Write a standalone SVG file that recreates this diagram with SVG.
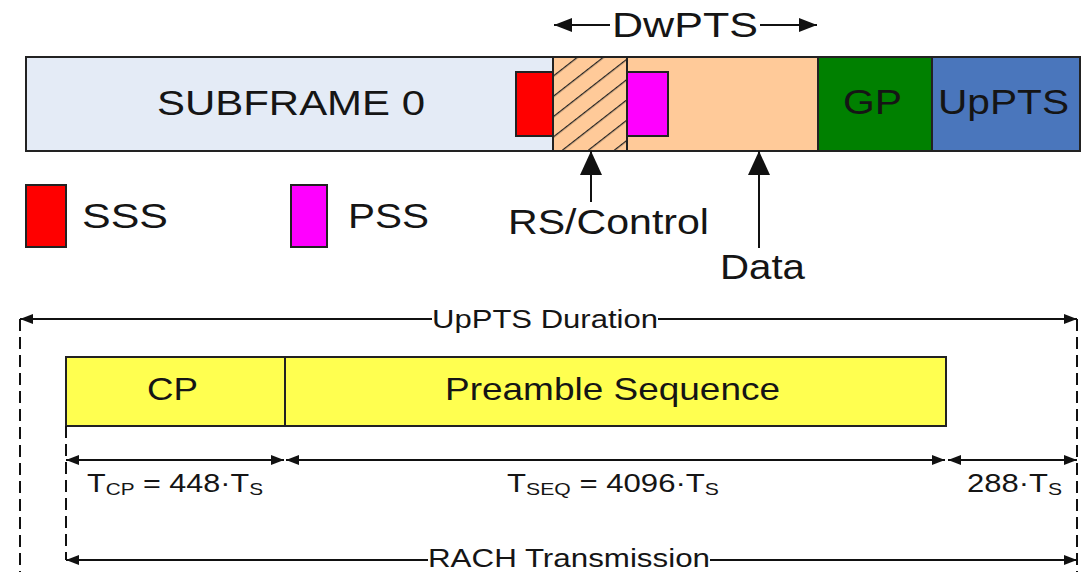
<svg xmlns="http://www.w3.org/2000/svg" width="1086" height="572" viewBox="0 0 1086 572">
  <style>
    text { font-family: "Liberation Sans", Arial, sans-serif; fill: #151515; }
    .blk { stroke: #222; stroke-width: 2; }
    .line { stroke: #111; stroke-width: 2; fill: none; }
    .dash { stroke: #111; stroke-width: 2; fill: none; stroke-dasharray: 12 6; }
    .big { font-size: 35px; }
    .mid { font-size: 32px; }
    .small { font-size: 25px; }
    .sub { font-size: 17px; }
  </style>
  <defs>
    <pattern id="hatch" patternUnits="userSpaceOnUse" width="16" height="16" patternTransform="rotate(52)">
      <rect width="16" height="16" fill="#FFCA99"/>
      <line x1="0" y1="0" x2="0" y2="16" stroke="#222" stroke-width="2.5"/>
    </pattern>
    <!-- small dimension arrowhead -->
    <marker id="ahs" markerUnits="userSpaceOnUse" markerWidth="13" markerHeight="10" refX="13" refY="5" orient="auto-start-reverse" overflow="visible">
      <path d="M0,0 L13,5 L0,10 z" fill="#111"/>
    </marker>
    <!-- span arrowhead -->
    <marker id="ahm" markerUnits="userSpaceOnUse" markerWidth="18" markerHeight="14" refX="18" refY="7" orient="auto-start-reverse" overflow="visible">
      <path d="M0,0 L18,7 L0,14 z" fill="#111"/>
    </marker>
    <!-- pointer arrowhead -->
    <marker id="ahb" markerUnits="userSpaceOnUse" markerWidth="24" markerHeight="22" refX="24" refY="11" orient="auto-start-reverse" overflow="visible">
      <path d="M0,0 L24,11 L0,22 z" fill="#111"/>
    </marker>
  </defs>

  <!-- subframe bar -->
  <g id="subframe0">
    <rect x="26" y="57" width="527" height="94" fill="#E4EBF6" class="blk"/>
    <text x="157" y="115" class="big" textLength="268" lengthAdjust="spacingAndGlyphs">SUBFRAME 0</text>
  </g>
  <g id="dwpts-data">
    <rect x="627" y="57" width="191" height="94" fill="#FFCA99" class="blk"/>
  </g>
  <g id="rs-control">
    <rect x="553" y="57" width="74" height="94" fill="url(#hatch)" class="blk"/>
  </g>
  <g id="sss-block">
    <rect x="516" y="72" width="37" height="64" fill="#FF0000" class="blk"/>
  </g>
  <g id="pss-block">
    <rect x="627" y="72" width="41" height="64" fill="#FF00FF" class="blk"/>
  </g>
  <g id="gp">
    <rect x="818" y="57" width="114" height="94" fill="#008000" class="blk"/>
    <text x="843" y="114" class="big" textLength="59" lengthAdjust="spacingAndGlyphs">GP</text>
  </g>
  <g id="uppts">
    <rect x="932" y="57" width="148" height="94" fill="#4A76BC" class="blk"/>
    <text x="938" y="114" class="big" textLength="131" lengthAdjust="spacingAndGlyphs">UpPTS</text>
  </g>

  <!-- legend -->
  <g id="legend-sss">
    <rect x="26" y="185" width="40" height="62" fill="#FF0000" class="blk"/>
    <text x="82" y="228" class="big" textLength="86" lengthAdjust="spacingAndGlyphs">SSS</text>
  </g>
  <g id="legend-pss">
    <rect x="291" y="185" width="36" height="62" fill="#FF00FF" class="blk"/>
    <text x="348" y="228" class="big" textLength="81" lengthAdjust="spacingAndGlyphs">PSS</text>
  </g>

  <!-- labels -->
  <g id="label-dwpts">
    <text x="612" y="37" class="big" textLength="146" lengthAdjust="spacingAndGlyphs">DwPTS</text>
  </g>
  <g id="label-rs">
    <text x="508" y="234" class="big" textLength="201" lengthAdjust="spacingAndGlyphs">RS/Control</text>
  </g>
  <g id="label-data">
    <text x="720" y="279" class="big" textLength="85" lengthAdjust="spacingAndGlyphs">Data</text>
  </g>

  <!-- RACH structure -->
  <g id="rach-cp">
    <rect x="66" y="357" width="219" height="69" fill="#FFFF50" class="blk"/>
    <text x="147" y="400" class="mid" textLength="51" lengthAdjust="spacingAndGlyphs">CP</text>
  </g>
  <g id="rach-seq">
    <rect x="285" y="357" width="661" height="69" fill="#FFFF50" class="blk"/>
    <text x="445" y="400" class="mid" textLength="335" lengthAdjust="spacingAndGlyphs">Preamble Sequence</text>
  </g>

  <g id="dim-labels">
    <text x="432" y="328" class="small" textLength="226" lengthAdjust="spacingAndGlyphs">UpPTS Duration</text>
    <text x="87" y="492" class="small" textLength="176" lengthAdjust="spacingAndGlyphs">T<tspan class="sub" dy="3">CP</tspan><tspan dy="-3"> = 448·T</tspan><tspan class="sub" dy="3">S</tspan></text>
    <text x="507" y="492" class="small" textLength="212" lengthAdjust="spacingAndGlyphs">T<tspan class="sub" dy="3">SEQ</tspan><tspan dy="-3"> = 4096·T</tspan><tspan class="sub" dy="3">S</tspan></text>
    <text x="967" y="492" class="small" textLength="95" lengthAdjust="spacingAndGlyphs">288·T<tspan class="sub" dy="3">S</tspan></text>
    <text x="428" y="567" class="small" textLength="282" lengthAdjust="spacingAndGlyphs">RACH Transmission</text>
  </g>

  <!-- connectors -->
  <g id="connectors">
    <!-- DwPTS span -->
    <line x1="610" y1="25" x2="554" y2="25" class="line" marker-end="url(#ahm)"/>
    <line x1="760" y1="25" x2="817" y2="25" class="line" marker-end="url(#ahm)"/>
    <!-- pointers -->
    <line x1="591" y1="202" x2="591" y2="151" class="line" marker-end="url(#ahb)"/>
    <line x1="759" y1="248" x2="759" y2="151" class="line" marker-end="url(#ahb)"/>
    <!-- extension lines -->
    <line x1="20" y1="319" x2="20" y2="572" class="dash"/>
    <line x1="1077" y1="319" x2="1077" y2="572" class="dash"/>
    <line x1="66" y1="426" x2="66" y2="560" class="dash"/>
    <!-- UpPTS duration -->
    <line x1="432" y1="319" x2="20" y2="319" class="line" marker-end="url(#ahs)"/>
    <line x1="658" y1="319" x2="1077" y2="319" class="line" marker-end="url(#ahs)"/>
    <!-- segment durations -->
    <line x1="66" y1="460" x2="284" y2="460" class="line" marker-start="url(#ahs)" marker-end="url(#ahs)"/>
    <line x1="286" y1="460" x2="945" y2="460" class="line" marker-start="url(#ahs)" marker-end="url(#ahs)"/>
    <line x1="948" y1="460" x2="1077" y2="460" class="line" marker-start="url(#ahs)" marker-end="url(#ahs)"/>
    <!-- RACH transmission -->
    <line x1="428" y1="560" x2="66" y2="560" class="line" marker-end="url(#ahs)"/>
    <line x1="710" y1="560" x2="1077" y2="560" class="line" marker-end="url(#ahs)"/>
  </g>
</svg>
